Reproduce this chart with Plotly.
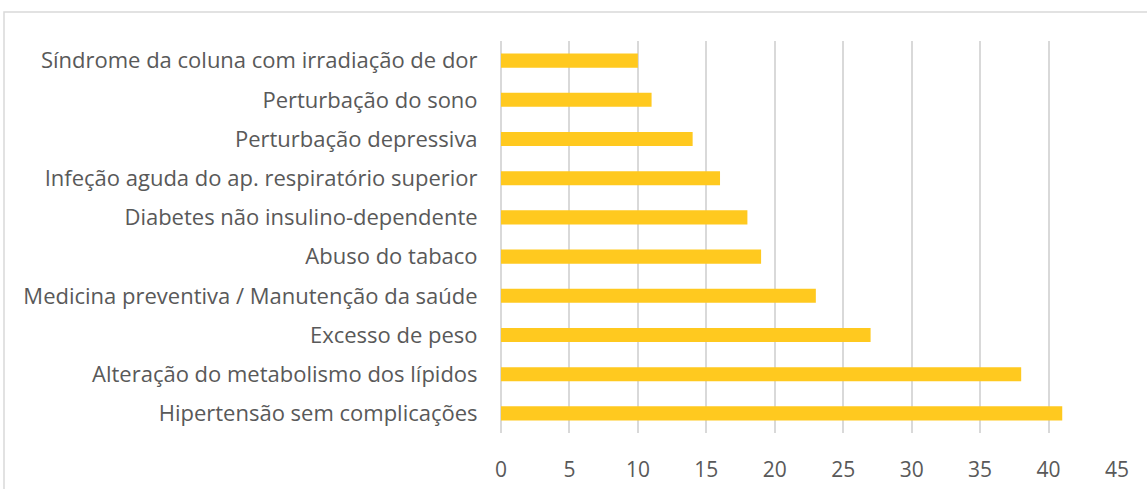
import plotly.graph_objects as go

categories = [
    "Hipertensão sem complicações",
    "Alteração do metabolismo dos lípidos",
    "Excesso de peso",
    "Medicina preventiva / Manutenção da saúde",
    "Abuso do tabaco",
    "Diabetes não insulino-dependente",
    "Infeção aguda do ap. respiratório superior",
    "Perturbação depressiva",
    "Perturbação do sono",
    "Síndrome da coluna com irradiação de dor",
]
values = [41, 38, 27, 23, 19, 18, 16, 14, 11, 10]
x_ticks = [0, 5, 10, 15, 20, 25, 30, 35, 40, 45]

W, H = 1147, 489
L, R, T, B = 501, 30, 41, 56
pw, ph = W - L - R, H - T - B

def px_x(p):
    return (p - L) / pw

def px_y(p):
    return (H - B - p) / ph

fig = go.Figure(go.Bar(
    x=values, y=categories, orientation="h",
    marker=dict(color="#FFC91F", line=dict(width=0)),
    width=0.36,
))

fig.update_layout(
    width=W, height=H,
    margin=dict(l=L, r=R, t=T, b=B, autoexpand=False),
    plot_bgcolor="white", paper_bgcolor="white",
    font=dict(family="Open Sans", size=21, color="#595959"),
    showlegend=False,
    xaxis=dict(range=[0, 45], tickvals=x_ticks, showgrid=True, gridcolor="#D9D9D9",
               gridwidth=1.5, zeroline=True, zerolinecolor="#D9D9D9", zerolinewidth=1.5,
               showline=False, ticks="outside", ticklen=18, tickcolor="rgba(0,0,0,0)",
               tickfont=dict(size=21), fixedrange=True),
    yaxis=dict(showgrid=False, zeroline=False, showline=False, ticks="outside",
               ticklen=18, tickcolor="rgba(0,0,0,0)", tickfont=dict(size=22),
               autorange=True),
    shapes=[dict(type="rect", xref="paper", yref="paper",
                 x0=px_x(4), x1=px_x(1160), y0=px_y(500), y1=px_y(12),
                 line=dict(color="#D9D9D9", width=1.5), fillcolor="rgba(0,0,0,0)",
                 layer="below")],
)

fig.write_html("out.html", config={"displayModeBar": False},
               post_script="document.body.style.margin='0';")
